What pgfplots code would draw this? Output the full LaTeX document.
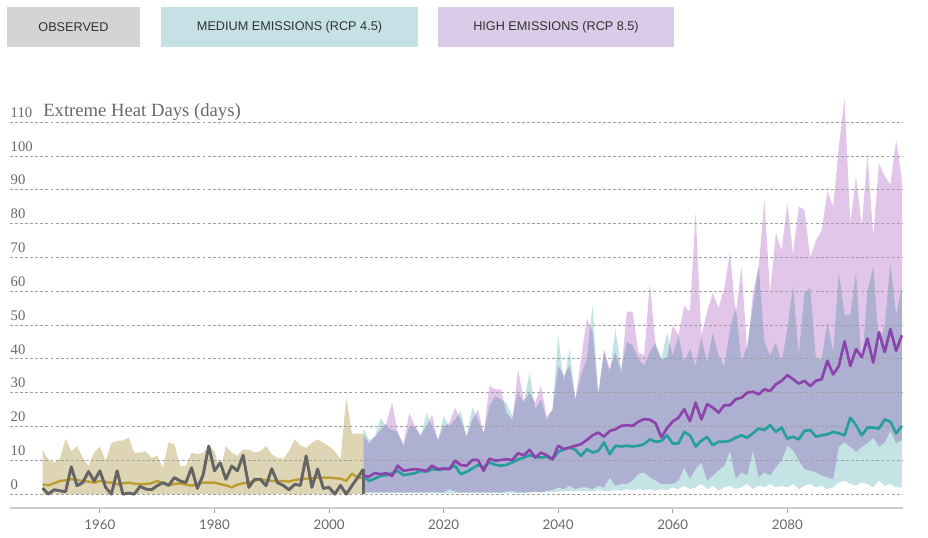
\documentclass[border=0pt]{standalone}
\usepackage{fontspec}
\setmainfont{Liberation Serif}
\newfontfamily\legfont{Liberation Sans}
\newfontfamily\xfont{Lato}
\usepackage{pgfplots}
\usepackage{pgfplotstable}
\pgfplotsset{compat=1.18}
\usepgfplotslibrary{fillbetween}

\definecolor{obsbox}{RGB}{212,212,212}
\definecolor{medbox}{RGB}{197,225,229}
\definecolor{highbox}{RGB}{218,204,232}
\definecolor{legtext}{RGB}{50,50,50}
\definecolor{tanband}{RGB}{222,213,181}
\definecolor{goldline}{RGB}{188,157,50}
\definecolor{obsline}{RGB}{100,100,100}
\definecolor{tband}{RGB}{196,227,229}
\definecolor{pband}{RGB}{226,198,233}
\definecolor{tline}{RGB}{38,158,158}
\definecolor{pline}{RGB}{140,68,172}
\definecolor{gridc}{RGB}{160,160,160}
\definecolor{labc}{RGB}{105,105,105}
\definecolor{axisc}{RGB}{205,205,205}

\pgfplotsset{layers/mylayers/.define layer set={axis background,pre main,axis grid,axis ticks,axis lines,axis tick labels,main,axis descriptions,axis foreground}{}}

\pgfplotstableread{
year obs mean up
1950 1.8 2.9 12.9
1951 0 2.6 10.3
1952 1.3 3.2 9.3
1953 1.0 3.9 10.5
1954 0.7 4.1 16.4
1955 8.1 4.4 12.7
1956 2.5 4.2 14.2
1957 3.4 3.9 10.8
1958 6.7 3.7 8.3
1959 3.9 3.4 12.3
1960 6.9 3.9 14.0
1961 2.0 3.6 9.8
1962 0 3.4 15.2
1963 6.9 2.9 15.7
1964 0 3.2 15.9
1965 0.3 3.4 16.7
1966 0 3.1 12.3
1967 2.3 2.9 12.3
1968 1.5 3.0 12.7
1969 1.3 3.2 10.8
1970 2.5 3.9 11.3
1971 3.4 3.2 7.8
1972 2.6 2.6 15.4
1973 4.9 3.0 14.7
1974 3.9 3.2 8.3
1975 3.4 2.8 8.3
1976 7.8 2.5 12.3
1977 1.7 3.0 11.8
1978 5.6 3.4 12.3
1979 14.2 3.4 14.2
1980 6.9 3.4 12.7
1981 9.3 3.0 6.9
1982 4.4 2.6 14.2
1983 8.3 2.0 12.3
1984 6.9 2.8 11.3
1985 11.5 3.2 13.2
1986 2.0 3.5 13.2
1987 4.4 3.9 12.3
1988 4.4 4.4 12.7
1989 2.5 4.1 14.2
1990 7.5 3.9 11.8
1991 3.4 3.9 10.8
1992 2.6 3.9 10.5
1993 1.3 3.7 12.7
1994 2.9 4.2 16.2
1995 2.6 4.4 14.4
1996 11.3 4.6 13.7
1997 2.0 4.7 15.2
1998 7.4 4.9 16.2
1999 1.7 4.9 15.2
2000 2.0 4.9 14.2
2001 0 4.7 12.7
2002 2.6 4.6 10.3
2003 0 3.9 28.7
2004 2.5 6.1 17.9
2005 4.9 4.9 17.9
2006 7.4 4.9 17.9
}\obs

\pgfplotstableread{
year pm tm pu pl tu tl
2006 5.4 5.4 17.5 0.5 19.5 0.3
2007 5.2 3.9 15 0.5 16 0.3
2008 6.2 4.6 17 0.5 17 0.3
2009 5.9 5.4 19 0.5 22.5 0.3
2010 6.2 5.6 21 0.5 20 0.3
2011 5.4 6.2 27 0.5 19 0.3
2012 8.4 6.9 18 0.5 18.5 0.3
2013 6.9 5.6 15 0.5 14 0.3
2014 7.2 5.9 24 0.5 20 0.3
2015 7.4 6.2 20 0.5 20 0.3
2016 7.2 6.9 17.5 0.5 17 0.3
2017 6.9 6.6 20 0.5 24 0.3
2018 8.4 7.4 23.5 0.5 20 0.3
2019 7.4 7.2 16 0.5 16 0.3
2020 7.6 7.4 20 0.5 23 0.3
2021 7.4 7.6 21 1.5 20 0.3
2022 9.9 8.4 25.5 0.8 22 0.3
2023 8.6 5.9 22 0.5 24.5 0.3
2024 8.4 6.6 17 0.5 17 0.3
2025 10.1 7.6 22 0.5 25.5 0.3
2026 10.1 8.6 25 0.5 22 0.3
2027 6.9 7.9 18 0.5 18 0.3
2028 10.5 9.4 32 0.5 26 0.3
2029 9.9 8.7 31 0.5 29 0.3
2030 10.1 8.4 31 0.5 28 0.3
2031 10.3 8.7 24 0.8 27 0.3
2032 10.1 9.4 22 1.0 23 0.3
2033 12.1 10.3 37 0.5 30 0.3
2034 11.5 10.8 27.6 0.5 27 0.3
2035 13.1 11.5 30 0.5 36 0.5
2036 10.8 11.1 27 0.8 25 0.5
2037 12.3 10.8 32 0.5 28 0.5
2038 11.5 11.1 23 1.0 22 0.5
2039 10.3 10.3 25 1.2 25 0.5
2040 14.3 12.5 38 2.0 47 0.8
2041 13.3 13.3 35 1.5 33 0.8
2042 13.8 13.8 38 2.5 43 1.0
2043 14.3 13.1 28 1.5 28 0.8
2044 14.8 11.3 40 2.0 35 1.0
2045 16.0 13.3 52 2.0 40 1.0
2046 17.4 12.3 48 1.5 56 0.8
2047 18.2 12.8 29 2.5 30 1.2
2048 17.0 15.3 43 2.0 42 1.0
2049 18.7 11.8 37 4.9 36 1.0
2050 19.2 14.3 42 2.5 49 1.2
2051 20.2 14.1 36 3.0 37 1.0
2052 20.4 14.3 54 3.0 45 1.5
2053 20.2 14.1 54 4.0 44 1.0
2054 21.4 14.3 42 6.0 40 1.5
2055 22.2 14.8 41 6.4 38 1.2
2056 22.0 16.2 62.5 5.0 42 1.5
2057 21.0 15.5 44 4.0 44.8 1.0
2058 16.8 15.7 40 3.0 40 1.5
2059 19.5 17.4 40 3.0 47.7 1.2
2060 21.5 15.0 50 3.0 41 2.0
2061 22.6 15.0 47 4.0 46.8 1.5
2062 25.1 18.4 55.6 7.9 39 2.5
2063 21.6 17.4 54 4.5 43 1.5
2064 27.1 14.1 83.2 7.4 38 2.0
2065 22.1 15.8 46.8 9.4 46.3 3.0
2066 26.6 16.9 54 4.0 39 1.5
2067 25.6 14.5 59.5 5.5 47.7 2.5
2068 24.1 15.5 55 7.0 41 1.0
2069 26.3 15.5 61 8.4 38 2.0
2070 26.3 15.8 71.4 12.8 48.7 2.5
2071 28.1 16.7 53 4.5 55.6 1.5
2072 28.5 17.4 67.4 6.5 39 2.0
2073 30.0 16.7 42 5.5 44 3.0
2074 30.3 18.0 59.5 12.8 55.6 1.5
2075 29.5 19.4 67.4 5.0 67.4 2.5
2076 31.0 19.0 87.1 6.5 45 2.0
2077 30.5 20.4 59.5 5.5 41 3.0
2078 32.5 18.4 77.3 8.0 44.8 2.0
2079 33.5 19.7 72 10.0 39 2.5
2080 35.2 16.4 86.1 14.3 48.7 2.0
2081 34.0 17.0 71 13 61.5 3.0
2082 32.7 16.2 85.1 10 41 1.5
2083 33.5 18.7 84 7.4 59.5 2.5
2084 32.0 19.0 70 7.0 61 3.0
2085 33.5 17.0 75 6.5 40 2.0
2086 34.0 17.4 78 5.5 40 2.5
2087 39.4 17.7 89.6 5.0 50.7 1.5
2088 35.4 18.4 85 4.4 42 2.0
2089 37.9 18.0 102.9 14 65.5 3.5
2090 45.2 17.4 117 15.3 53 4.0
2091 37.9 22.6 80.2 14 53 3.0
2092 42.9 20.4 94 12.5 65.5 2.5
2093 40.5 17.4 79.2 14 38 3.5
2094 46.0 19.7 100.4 15 60 3.0
2095 38.9 19.7 76.3 16.7 67.4 2.0
2096 47.9 19.4 97.9 14 44 4.0
2097 42.0 22.1 94 15.3 50 2.5
2098 48.8 21.4 91.5 18.7 68.4 3.0
2099 42.4 18.0 104.8 15 53 2.0
2100 47.0 20.2 93 16 61.5 2.0
}\proj

\begin{document}
\begin{tikzpicture}
\begin{scope}[x=0.75pt,y=0.75pt]
\useasboundingbox (0,0) rectangle (928,537);
% legend buttons
\fill[obsbox] (7,490) rectangle (140,530);
\node[font=\legfont\fontsize{9.5}{11}\selectfont, text=legtext] at (73.5,510) {OBSERVED};
\fill[medbox] (161,490) rectangle (418,530);
\node[font=\legfont\fontsize{9.5}{11}\selectfont, text=legtext] at (289.5,510) {MEDIUM EMISSIONS (RCP 4.5)};
\fill[highbox] (438,490) rectangle (674,530);
\node[font=\legfont\fontsize{9.5}{11}\selectfont, text=legtext] at (556,510) {HIGH EMISSIONS (RCP 8.5)};
\end{scope}

\begin{axis}[
  at={(7.5pt,21.75pt)}, anchor=south west,
  scale only axis, width=669.75pt, height=314.7pt,
  set layers=mylayers,
  xmin=1944.3, xmax=2100.2, ymin=-4.1, ymax=120,
  axis x line*=bottom, axis y line*=left,
  x axis line style={axisc, line width=1.5pt, -},
  y axis line style={draw=none},
  xtick={1960,1980,2000,2020,2040,2060,2080},
  xtick align=outside,
  major tick length=3.5pt,
  xtick style={draw=axisc!80!black, line width=0.8pt},
  xticklabel style={font=\xfont\fontsize{10}{12}\selectfont, text=labc, yshift=-1.5pt},
  ytick={0,10,...,110},
  ytick style={draw=none},
  yticklabel style={anchor=south west, xshift=-3pt, font=\fontsize{11}{13}\selectfont, text=labc},
  ymajorgrids,
  grid style={gridc, line width=0.65pt, dash pattern=on 2.2pt off 1.6pt},
  /pgf/number format/1000 sep={},
  /pgf/number format/assume math mode=true,
  no markers, line join=round,
  clip=false,
]
\addplot[draw=none, name path=oup] table[x=year,y=up]{\obs};
\addplot[draw=none, name path=ozero] coordinates {(1950,0) (2006,0)};
\addplot[fill=tanband, draw=none] fill between[of=oup and ozero];

\addplot[draw=none, name path=tu] table[x=year,y=tu]{\proj};
\addplot[draw=none, name path=tl] table[x=year,y=tl]{\proj};
\addplot[draw=none, name path=pu] table[x=year,y=pu]{\proj};
\addplot[draw=none, name path=pl] table[x=year,y=pl]{\proj};
\addplot[fill=tband, draw=none] fill between[of=tu and tl];
\addplot[fill=pband, draw=none, blend mode=multiply] fill between[of=pu and pl];

\addplot[goldline, line width=1.8pt] table[x=year,y=mean]{\obs};
\addplot[obsline, line width=2.2pt] table[x=year,y=obs]{\obs};
\addplot[obsline, line width=2.2pt] coordinates {(2006,7.4) (2006,0)};
\addplot[tline, line width=2pt] table[x=year,y=tm]{\proj};
\addplot[pline, line width=2pt] table[x=year,y=pm]{\proj};
\end{axis}

\node[anchor=base west, inner sep=0pt, text=labc, font=\fontsize{14}{16}\selectfont] at (32.25pt,315.2pt) {Extreme Heat Days (days)};
\end{tikzpicture}
\end{document}
